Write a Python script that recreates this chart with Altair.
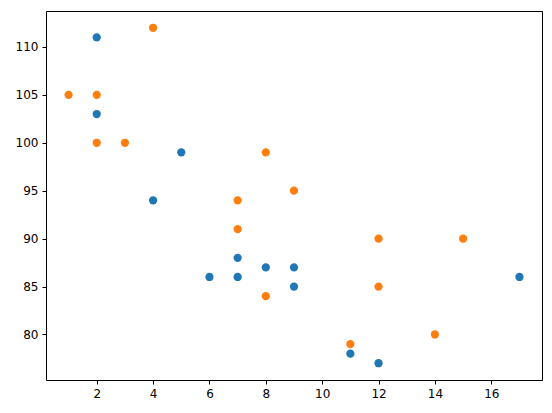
import altair as alt
import pandas as pd

x1 = [5, 7, 8, 7, 2, 17, 2, 9, 4, 11, 12, 9, 6]
y1 = [99, 86, 87, 88, 111, 86, 103, 87, 94, 78, 77, 85, 86]
x2 = [2, 2, 8, 1, 15, 8, 12, 9, 7, 3, 11, 4, 7, 14, 12]
y2 = [100, 105, 84, 105, 90, 99, 90, 95, 94, 100, 79, 112, 91, 80, 85]
x_ticks = [2, 4, 6, 8, 10, 12, 14, 16]
y_ticks = [80, 85, 90, 95, 100, 105, 110]

df = pd.concat([
    pd.DataFrame({"x": x1, "y": y1, "s": "A"}),
    pd.DataFrame({"x": x2, "y": y2, "s": "B"}),
])

chart = alt.Chart(df).mark_circle(size=68, opacity=1).encode(
    x=alt.X("x:Q", scale=alt.Scale(domain=[0.2, 17.8], nice=False, zero=False),
            axis=alt.Axis(values=x_ticks, title=None, grid=False)),
    y=alt.Y("y:Q", scale=alt.Scale(domain=[75.25, 113.75], nice=False, zero=False),
            axis=alt.Axis(values=y_ticks, title=None, grid=False)),
    color=alt.Color("s:N", scale=alt.Scale(domain=["A", "B"], range=["#1f77b4", "#ff7f0e"]), legend=None),
).properties(
    width=496, height=369,
    autosize=alt.AutoSizeParams(type="none"),
    padding={"left": 38, "top": 3, "right": 2, "bottom": 30},
).configure_view(
    stroke="black", strokeWidth=1
).configure_axis(
    domain=False, tickColor="black", tickSize=4, tickWidth=1,
    labelColor="black", labelFont="DejaVu Sans", labelFontSize=12, labelPadding=4,
)

chart.save("out.html", embed_options={"renderer": "svg", "actions": False})
